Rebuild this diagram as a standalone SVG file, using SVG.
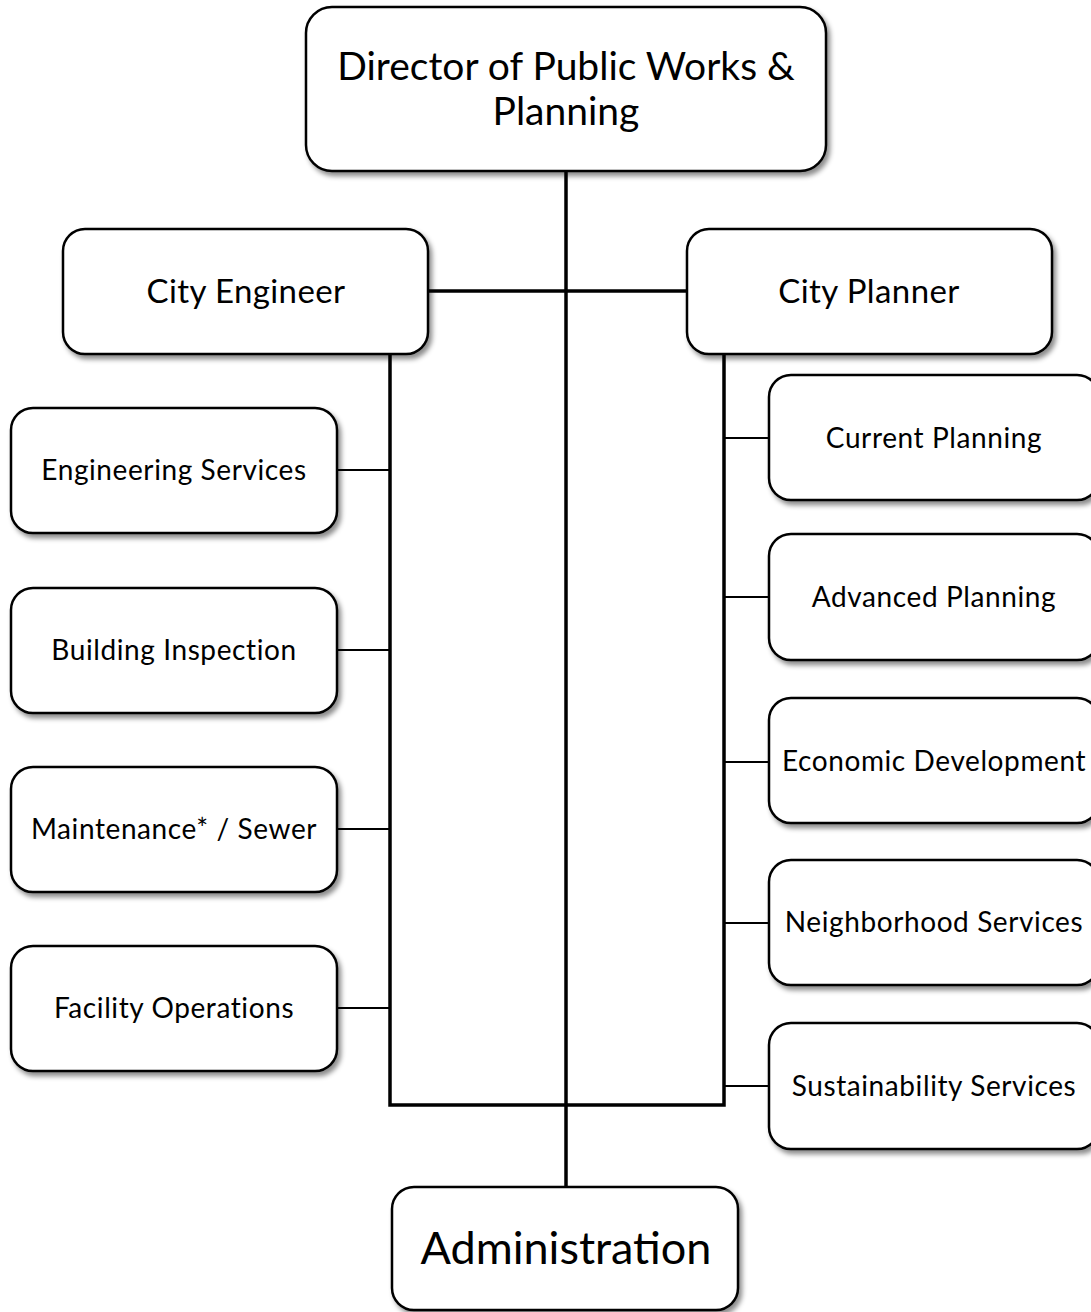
<svg xmlns="http://www.w3.org/2000/svg" width="1091" height="1312" viewBox="0 0 1091 1312">
<defs>
<filter id="sh" x="-10%" y="-10%" width="125%" height="130%">
<feDropShadow dx="3" dy="4" stdDeviation="2.5" flood-color="#000" flood-opacity="0.45"/>
</filter>
</defs>
<style>
.box{fill:#fff;stroke:#000;stroke-width:2.5;filter:url(#sh)}
text{font-family:Lato,"Open Sans","Liberation Sans",sans-serif;fill:#000;text-anchor:middle;dominant-baseline:central}
.thick{stroke:#000;stroke-width:3.5;fill:none}
.thin{stroke:#000;stroke-width:2.2;fill:none}
.s{font-size:28px;letter-spacing:0.6px}
.m{font-size:33px;letter-spacing:0.4px}
</style>
<g id="connectors">
<line class="thick" x1="566" y1="171" x2="566" y2="1188"/>
<line class="thick" x1="428" y1="291" x2="687" y2="291"/>
<polyline class="thick" points="390,354 390,1105 724,1105 724,354"/>
<line class="thin" x1="337" y1="470" x2="390" y2="470"/>
<line class="thin" x1="337" y1="650" x2="390" y2="650"/>
<line class="thin" x1="337" y1="829" x2="390" y2="829"/>
<line class="thin" x1="337" y1="1008" x2="390" y2="1008"/>
<line class="thin" x1="724" y1="438" x2="769" y2="438"/>
<line class="thin" x1="724" y1="597" x2="769" y2="597"/>
<line class="thin" x1="724" y1="762" x2="769" y2="762"/>
<line class="thin" x1="724" y1="923" x2="769" y2="923"/>
<line class="thin" x1="724" y1="1086" x2="769" y2="1086"/>
</g>
<g id="director"><rect class="box" x="306" y="7" width="520" height="164" rx="26"/>
<text x="566" y="65" font-size="39">Director of Public Works &amp;</text>
<text x="566" y="110" font-size="39">Planning</text></g>
<g id="city-engineer"><rect class="box" x="63" y="229" width="365" height="125" rx="22"/>
<text class="m" x="246" y="290">City Engineer</text></g>
<g id="city-planner"><rect class="box" x="687" y="229" width="365" height="125" rx="22"/>
<text class="m" x="869" y="290">City Planner</text></g>
<g id="engineering-services"><rect class="box" x="11" y="408" width="326" height="125" rx="22"/>
<text class="s" x="174" y="469">Engineering Services</text></g>
<g id="building-inspection"><rect class="box" x="11" y="588" width="326" height="125" rx="22"/>
<text class="s" x="174" y="649">Building Inspection</text></g>
<g id="maintenance"><rect class="box" x="11" y="767" width="326" height="125" rx="22"/>
<text class="s" x="174" y="828">Maintenance* / Sewer</text></g>
<g id="facility-operations"><rect class="box" x="11" y="946" width="326" height="125" rx="22"/>
<text class="s" x="174" y="1007">Facility Operations</text></g>
<g id="current-planning"><rect class="box" x="769" y="375" width="330" height="125" rx="22"/>
<text class="s" x="934" y="437">Current Planning</text></g>
<g id="advanced-planning"><rect class="box" x="769" y="534" width="330" height="126" rx="22"/>
<text class="s" x="934" y="596">Advanced Planning</text></g>
<g id="economic-development"><rect class="box" x="769" y="698" width="330" height="125" rx="22"/>
<text class="s" x="934" y="760">Economic Development</text></g>
<g id="neighborhood-services"><rect class="box" x="769" y="860" width="330" height="125" rx="22"/>
<text class="s" x="934" y="921">Neighborhood Services</text></g>
<g id="sustainability-services"><rect class="box" x="769" y="1023" width="330" height="126" rx="22"/>
<text class="s" x="934" y="1085">Sustainability Services</text></g>
<g id="administration"><rect class="box" x="392" y="1187" width="346" height="123" rx="22"/>
<text x="566" y="1247" font-size="45">Administration</text></g>
</svg>
